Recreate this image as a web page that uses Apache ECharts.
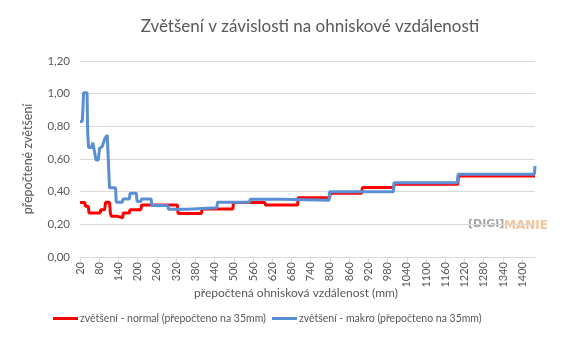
<!DOCTYPE html>
<html>
<head>
<meta charset="utf-8">
<script src="https://cdn.jsdelivr.net/npm/echarts@6/dist/echarts.min.js"></script>
<style>
html,body{margin:0;padding:0;background:#fff;}
#chart{width:564px;height:339px;}
</style>
</head>
<body>
<div id="chart"></div>
<script>
// Data
var chartTitle = 'Zvětšení v závislosti na ohniskové vzdálenosti';
var seriesNames = ['zvětšení - normal (přepočteno na 35mm)', 'zvětšení - makro (přepočteno na 35mm)'];
var xTicks = [20, 80, 140, 200, 260, 320, 380, 440, 500, 560, 620, 680, 740, 800, 860, 920, 980, 1040, 1100, 1160, 1220, 1280, 1340, 1400];

var normalFocal = [20, 35, 37, 46, 48, 83, 85, 97, 100, 112, 115, 118, 135, 137, 153, 155, 174, 176, 210, 212, 324, 326, 399, 401, 497, 499, 597, 599, 699, 701, 799, 801, 899, 901, 999, 1001, 1199, 1201, 1440];
var normalValue = [0.333, 0.333, 0.31, 0.31, 0.27, 0.27, 0.29, 0.29, 0.335, 0.335, 0.267, 0.25, 0.25, 0.24, 0.24, 0.27, 0.27, 0.29, 0.29, 0.318, 0.318, 0.267, 0.267, 0.294, 0.294, 0.333, 0.333, 0.318, 0.318, 0.363, 0.363, 0.39, 0.39, 0.425, 0.425, 0.445, 0.445, 0.496, 0.496];

var macroFocal = [20, 27, 29, 31, 42, 44, 47, 56, 60, 65, 70, 77, 81, 89, 98, 105, 110, 112, 131, 133, 152, 154, 174, 176, 196, 198, 210, 212, 242, 244, 294, 296, 355, 357, 447, 449, 549, 551, 649, 651, 797, 799, 998, 1000, 1198, 1200, 1438, 1440];
var macroValue = [0.83, 0.83, 0.90, 1.005, 1.005, 0.76, 0.67, 0.67, 0.70, 0.70, 0.594, 0.594, 0.666, 0.675, 0.727, 0.747, 0.747, 0.424, 0.424, 0.335, 0.335, 0.355, 0.355, 0.39, 0.39, 0.34, 0.34, 0.355, 0.355, 0.316, 0.316, 0.292, 0.292, 0.302, 0.302, 0.335, 0.335, 0.353, 0.353, 0.347, 0.347, 0.40, 0.40, 0.455, 0.455, 0.506, 0.506, 0.557];

function pairs(xs, ys) { return xs.map(function (x, i) { return [x, ys[i]]; }); }

var FONT = 'Lato';
var TXT = '#595959';
var chart = echarts.init(document.getElementById('chart'), null, {renderer: 'canvas'});
chart.setOption({
  animation: false,
  backgroundColor: '#ffffff',
  title: {
    text: chartTitle,
    left: 305,
    textAlign: 'center',
    top: 13,
    textStyle: {fontFamily: FONT, fontSize: 17, fontWeight: 'normal', color: TXT}
  },
  grid: {left: 80, right: 29, top: 61, bottom: 82, containLabel: false},
  legend: {
    bottom: 10,
    left: 48,
    itemWidth: 25,
    itemHeight: 3,
    itemGap: 6,
    icon: 'rect',
    textStyle: {fontFamily: FONT, fontSize: 10.5, color: TXT, padding: [0, 0, 0, -3]},
    data: seriesNames
  },
  xAxis: {
    type: 'value',
    min: 20,
    max: 1440,
    name: 'přepočtená ohnisková vzdálenost (mm)',
    nameLocation: 'middle',
    nameGap: 30,
    nameMoveOverlap: false,
    nameTextStyle: {fontFamily: FONT, fontSize: 12, color: TXT, padding: [0, 23, 0, 0]},
    axisLine: {show: true, lineStyle: {color: '#d9d9d9', width: 1}},
    axisTick: {show: true, length: 5, lineStyle: {color: '#d9d9d9'}, customValues: xTicks},
    axisLabel: {rotate: 90, fontFamily: FONT, fontSize: 11, color: TXT, margin: 5, customValues: xTicks,
      formatter: function (v) { return String(v); }},
    splitLine: {show: false}
  },
  yAxis: {
    type: 'value',
    min: 0,
    max: 1.2,
    interval: 0.2,
    name: 'přepočtené zvětšení',
    nameLocation: 'middle',
    nameGap: 46,
    nameTextStyle: {fontFamily: FONT, fontSize: 12.5, color: TXT},
    axisLine: {show: false},
    axisTick: {show: false},
    axisLabel: {fontFamily: FONT, fontSize: 11.5, color: TXT, margin: 10,
      formatter: function (v) { return v.toFixed(2).replace('.', ','); }},
    splitLine: {show: true, lineStyle: {color: '#d9d9d9', width: 1}}
  },
  series: [
    {
      name: seriesNames[0], type: 'line', data: pairs(normalFocal, normalValue),
      showSymbol: false, symbol: 'none', color: '#ff0000',
      lineStyle: {color: '#ff0000', width: 3}
    },
    {
      name: seriesNames[1], type: 'line', data: pairs(macroFocal, macroValue),
      showSymbol: false, symbol: 'none', color: '#5a8fd6',
      lineStyle: {color: '#5a8fd6', width: 3}
    }
  ],
  graphic: [
    {type: 'text', left: 468, top: 219, style: {text: '[DIGI]', fill: '#a6a6a6', font: 'bold 11px "DejaVu Sans"'}},
    {type: 'text', left: 504, top: 220, style: {text: 'MANIE', fill: '#f6c29a', font: 'bold 12px "DejaVu Sans"'}}
  ]
});
</script>
</body>
</html>
